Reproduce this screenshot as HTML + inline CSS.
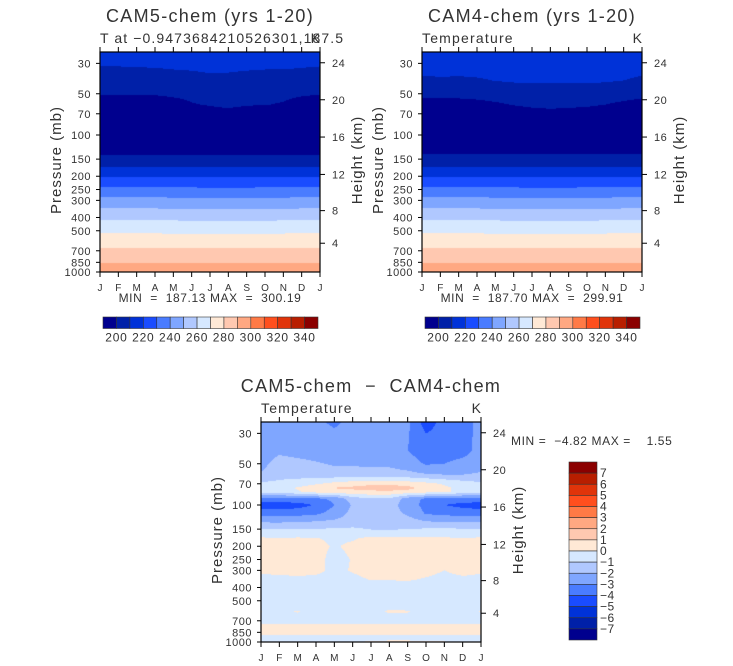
<!DOCTYPE html>
<html><head><meta charset="utf-8"><style>
html,body{margin:0;padding:0;background:#fff;}
#wrap{position:relative;width:733px;height:666px;overflow:hidden;font-family:"Liberation Sans",sans-serif;}
canvas{position:absolute;}
svg{position:absolute;left:0;top:0;}
text{white-space:pre;}
</style></head><body>
<div id="wrap">
<canvas id="c1" width="220" height="220" style="left:100px;top:52px"></canvas>
<canvas id="c2" width="220" height="220" style="left:422px;top:52px"></canvas>
<canvas id="c3" width="220" height="220" style="left:261px;top:422px"></canvas>
<svg id="s" width="733" height="666"></svg>
</div>
<script>
const COLORS=["#00008e","#0020a8","#0032d8","#1a4cff","#4a7cff","#7fa6ff","#b0c8ff","#d6e8ff","#ffe9d6","#ffc8b0","#ffa882","#ff7a46","#ff4f1e","#e0340a","#b81e00","#8b0000"];
const MONTHS=["J","F","M","A","M","J","J","A","S","O","N","D","J"];
const P_TICKS=[30,50,70,100,150,200,250,300,400,500,700,850,1000];
const H_TICKS=[24,20,16,12,8,4];
const H_PRESS=[29.7,55.3,103.5,194,356.5,616.6];
const TOP_BAR_LABELS=[200,220,240,260,280,300,320,340];
const DIFF_BAR_LABELS=[7,6,5,4,3,2,1,0,-1,-2,-3,-4,-5,-6,-7];

const TLEV=[25,30,35,40,50,60,70,85,100,125,150,175,200,250,300,400,500,700,850,1000];
const cam5=[
[214,214,214,214,214,214,214,214,214,214,214,214,214],
[212,212,212,212,212,212,212,212,212,212,212,212,212],
[206,206,207,208,209,209.5,210.2,210,209.5,209,209,208,206],
[204,204,204,204,204,204,204,204,204,204,204,204,204],
[201,201,201,201,201.5,202,202.5,202.5,202.5,202,201.5,201,201],
[192,192,193,194,197,199.5,200.5,201,200.5,200.2,199.5,197,192],
[190,190,190,191,193,195,197.5,198.5,197,195,193,191,190],
[188,188,188,188,188,188,188,188,188,188,188,188,188],
[188,188,188,188,188,188,188,188,188,188,188,188,188],
[193,193,193,193,193,193,193,193,193,193,193,193,193],
[205,205,205,205,205,204.8,204.6,204.6,204.7,204.8,205,205,205],
[211,211,211,211,211,210.8,210.6,210.6,210.7,210.8,211,211,211],
[219.5,219.5,219.5,219.5,219.4,219.2,219,219,219.1,219.2,219.4,219.5,219.5],
[232.5,232.5,232.5,232.4,232.2,232,231.8,231.8,231.9,232,232.2,232.4,232.5],
[243,243,243,242.9,242.7,242.5,242.3,242.3,242.4,242.5,242.7,242.9,243],
[258,258,258,257.9,257.7,257.5,257.3,257.3,257.4,257.5,257.7,257.9,258],
[268.3,268.3,268.3,268.2,268,267.9,267.8,267.8,267.9,268,268.1,268.2,268.3],
[282,282,282,281.9,281.8,281.7,281.6,281.6,281.7,281.8,281.9,282,282],
[289.5,289.5,289.5,289.5,289.4,289.3,289.3,289.3,289.3,289.4,289.5,289.5,289.5],
[300,300,300,300,300,300,300,300,300,300,300,300,300]];
const cam4=[
[214,214,214,214,214,214,214,214,214,214,214,214,214],
[212,212,212,212,212,212,212,212,212,212,212,212,212],
[211,211.2,211,211.3,211.8,212.3,212.5,212.5,212.5,212.5,212.3,211.8,211],
[208.5,209,208.8,209.2,210.2,210.8,211,211,211,211,210.8,210,208.5],
[203,203,203,203.5,204.5,205.5,206,206.5,206.5,206,205,204,203],
[196,196,196,197,198.5,200.5,202,202.5,202,201.5,200,198,196],
[190,190,190,191,192,194,196,197,196.5,195.5,194,192,190],
[188,188,188,188,188,188,188,188,188,188,188,188,188],
[188,188,188,188,188,188,188,188,188,188,188,188,188],
[194,194,194,194,194,194,194,194,194,194,194,194,194],
[205.5,205.5,205.5,205.5,205.4,205.2,205,205,205.1,205.2,205.4,205.5,205.5],
[211,211,211,211,211,210.8,210.6,210.6,210.7,210.8,211,211,211],
[219.5,219.5,219.5,219.5,219.4,219.2,219,219,219.1,219.2,219.4,219.5,219.5],
[232.5,232.5,232.5,232.4,232.2,232,231.8,231.8,231.9,232,232.2,232.4,232.5],
[243,243,243,242.9,242.7,242.5,242.3,242.3,242.4,242.5,242.7,242.9,243],
[258,258,258,257.9,257.7,257.5,257.3,257.3,257.4,257.5,257.7,257.9,258],
[268.3,268.3,268.3,268.2,268,267.9,267.8,267.8,267.9,268,268.1,268.2,268.3],
[282,282,282,281.9,281.8,281.7,281.6,281.6,281.7,281.8,281.9,282,282],
[289.5,289.5,289.5,289.5,289.4,289.3,289.3,289.3,289.3,289.4,289.5,289.5,289.5],
[299.9,299.9,299.9,299.9,299.9,299.9,299.9,299.9,299.9,299.9,299.9,299.9,299.9]];
const DLEV=[25,30,40,50,60,70,75,80,90,100,115,130,150,175,200,250,300,350,400,500,600,700,775,850,925,1000];
const diff=[
[-2.5,-2.5,-2.5,-2.6,-3.3,-2.5,-2.5,-2.5,-2.8,-4.5,-3.6,-3.6,-2.5],
[-2.5,-2.5,-2.5,-2.5,-2.7,-2.5,-2.5,-2.5,-2.9,-4.0,-3.6,-3.6,-2.5],
[-2.5,-2.2,-2.4,-2.5,-2.6,-2.6,-2.6,-2.6,-3.0,-3.6,-3.6,-3.5,-2.5],
[-2.3,-1.6,-1.7,-1.9,-2.1,-2.1,-2.2,-2.2,-2.5,-3.1,-3.0,-2.6,-2.3],
[-1.9,-1.4,-1.4,-1.5,-1.6,-1.6,-1.6,-1.6,-1.7,-1.9,-2.0,-2.0,-1.9],
[-0.8,-0.7,-0.5,-0.1,0.3,0.6,0.8,0.8,0.6,0.3,-0.1,-0.5,-0.8],
[-0.6,-0.4,0.1,0.6,1.05,1.2,1.4,1.5,1.3,0.6,0.2,-0.3,-0.6],
[-0.7,-0.6,-0.1,0.4,0.6,0.7,0.8,0.8,0.7,0.4,0.2,-0.4,-0.7],
[-3.4,-3.4,-3.3,-3.2,-2.8,-1.5,-1.1,-1.1,-2.5,-3.2,-3.4,-3.4,-3.4],
[-4.5,-4.5,-4.4,-3.9,-3.0,-1.9,-1.6,-1.6,-2.5,-3.3,-4.0,-4.3,-4.5],
[-3.5,-3.5,-3.4,-3.2,-2.6,-1.7,-1.5,-1.5,-2.2,-3.1,-3.3,-3.4,-3.5],
[-2.3,-2.3,-2.2,-2.1,-1.9,-1.6,-1.4,-1.4,-1.6,-2.1,-2.2,-2.3,-2.3],
[-0.9,-1.0,-1.0,-0.95,-0.9,-0.85,-1.05,-1.1,-1.0,-0.9,-0.9,-0.9,-0.9],
[0.1,0.05,0.1,0.05,-0.2,-0.1,0.2,0.25,0.2,0.15,0.1,0.05,0.1],
[0.4,0.3,0.4,0.3,-0.1,0.2,0.5,0.5,0.5,0.4,0.35,0.4,0.4],
[0.5,0.4,0.4,0.3,-0.3,0.05,0.5,0.6,0.6,0.5,0.5,0.5,0.5],
[0.1,0.3,0.2,0.3,-0.3,0.1,0.5,0.5,0.4,0.3,0.0,0.3,0.1],
[-0.2,-0.3,-0.1,-0.3,-0.4,-0.3,0.05,0.05,0.1,-0.1,-0.3,-0.2,-0.2],
[-0.5,-0.5,-0.5,-0.5,-0.5,-0.5,-0.5,-0.5,-0.5,-0.5,-0.5,-0.5,-0.5],
[-0.5,-0.5,-0.5,-0.5,-0.5,-0.5,-0.5,-0.5,-0.5,-0.5,-0.5,-0.5,-0.5],
[0.02,-0.2,0.05,-0.3,-0.4,-0.4,-0.3,0.1,0.05,-0.3,-0.3,-0.1,0.02],
[-0.4,-0.4,-0.4,-0.4,-0.4,-0.4,-0.4,-0.4,-0.4,-0.4,-0.4,-0.4,-0.4],
[0.4,0.4,0.4,0.4,0.4,0.4,0.4,0.4,0.4,0.4,0.4,0.4,0.4],
[0.3,0.3,0.3,0.3,0.3,0.3,0.3,0.3,0.3,0.3,0.3,0.3,0.3],
[-0.3,-0.3,-0.3,-0.3,-0.3,-0.3,-0.3,-0.3,-0.3,-0.3,-0.3,-0.3,-0.3],
[-0.3,-0.3,-0.3,-0.3,-0.3,-0.1,0.1,0.15,0.15,0.1,0.05,-0.2,-0.3]];

const W=220,H=220,DEC=137;
function yOf(p){return H-DEC*Math.log10(1000/p);}
function pOf(t){return 1000*Math.pow(10,-(H-t)/DEC);}
function xOf(m){return m/12*W;}
function rgb(h){return [parseInt(h.substr(1,2),16),parseInt(h.substr(3,2),16),parseInt(h.substr(5,2),16)];}
const RGB=COLORS.map(rgb);
function drawField(id,levels,grid,toIdx){
  const ctx=document.getElementById(id).getContext("2d");
  const img=ctx.createImageData(W,H);
  const L=levels.map(p=>Math.log10(p));
  for(let py=0;py<H;py++){
    const lp=Math.log10(pOf(py+0.5));
    let k=0;while(k<L.length-2&&lp>L[k+1])k++;
    let fy=(lp-L[k])/(L[k+1]-L[k]);fy=Math.max(0,Math.min(1,fy));
    for(let px=0;px<W;px++){
      const m=(px+0.5)/W*12;let j=Math.min(11,Math.floor(m));const fx=m-j;
      const a=grid[k][j]*(1-fx)+grid[k][j+1]*fx;
      const b=grid[k+1][j]*(1-fx)+grid[k+1][j+1]*fx;
      const v=a*(1-fy)+b*fy;
      let idx=Math.max(0,Math.min(15,toIdx(v)));
      const c=RGB[idx],o=(py*W+px)*4;
      img.data[o]=c[0];img.data[o+1]=c[1];img.data[o+2]=c[2];img.data[o+3]=255;
    }
  }
  ctx.putImageData(img,0,0);
}
drawField("c1",TLEV,cam5,v=>Math.floor((v-200)/10)+1);
drawField("c2",TLEV,cam4,v=>Math.floor((v-200)/10)+1);
drawField("c3",DLEV,diff,v=>Math.floor(v)+8);

const NS="http://www.w3.org/2000/svg";const svg=document.getElementById("s");
function el(tag,attrs,parent){const e=document.createElementNS(NS,tag);for(const k in attrs)e.setAttribute(k,attrs[k]);(parent||svg).appendChild(e);return e;}
function txt(x,y,s,size,anchor,parent,ls){const e=el("text",{x:x,y:y,"font-size":size,"text-anchor":anchor||"start",fill:"#333","font-family":"Liberation Sans, sans-serif","letter-spacing":(ls==null?0.5:ls)},parent);e.textContent=s;return e;}

function panel(x0,y0,title,sub,minmax,name,subLs){
  const g=el("g",{});
  
  
  const fr=el("rect",{x:x0,y:y0,width:W,height:H,fill:"none",stroke:"#000","stroke-width":1.2},g);
  
  
  const t=txt(x0+W/2,y0-30,title,18,"middle",g,1.3);
  
  
  const st=txt(x0,y0-9,sub,14,"start",g,subLs);
  
  
  const u=txt(x0+W,y0-9,"K",14,"end",g,0);
  
  
  MONTHS.forEach((m,i)=>{
    const x=x0+xOf(i);
    el("line",{x1:x,x2:x,y1:y0+H,y2:y0+H+5,stroke:"#000"},g);
    el("line",{x1:x,x2:x,y1:y0,y2:y0-5,stroke:"#000"},g);
    const l=txt(x,y0+H+19,m,10,"middle",g,0);
    
    
  });
  P_TICKS.forEach(p=>{
    const y=y0+yOf(p);
    el("line",{x1:x0,x2:x0-4,y1:y,y2:y,stroke:"#000"},g);
    const l=txt(x0-9,y+4,String(p),11,"end",g);
    
    
  });
  H_TICKS.forEach((h,i)=>{
    const y=y0+yOf(H_PRESS[i]);
    el("line",{x1:x0+W,x2:x0+W+5,y1:y,y2:y,stroke:"#000"},g);
    const l=txt(x0+W+12,y+4,String(h),11,"start",g);
    
    
  });
  const yl=txt(0,0,"Pressure (mb)",15,"middle",g,1);
  yl.setAttribute("transform","translate("+(x0-39)+","+(y0+H/2-2)+") rotate(-90)");
  
  
  const hl=txt(0,0,"Height (km)",15,"middle",g,1);
  hl.setAttribute("transform","translate("+(x0+W+42)+","+(y0+H/2-2)+") rotate(-90)");
  
  
  if(minmax){const mm=txt(x0+W/2,y0+H+30,minmax,12,"middle",g,0.6);
    
    }
}
panel(100,52,"CAM5-chem (yrs 1-20)","T at \u22120.9473684210526301,187.5","MIN  =  187.13 MAX  =  300.19","cam5",1.1);
panel(422,52,"CAM4-chem (yrs 1-20)","Temperature","MIN  =  187.70 MAX  =  299.91","cam4",1.2);
panel(261,422,"CAM5-chem  \u2212  CAM4-chem","Temperature",null,"diff",1.2);

function hbar(x0,y0,w,h,name){
  const g=el("g",{});
  
  
  const bw=w/16;
  COLORS.forEach((c,i)=>{el("rect",{x:x0+i*bw,y:y0,width:bw,height:h,fill:c,stroke:"#333","stroke-width":0.6},g);});
  TOP_BAR_LABELS.forEach((v,i)=>{
    const l=txt(x0+(1+2*i)*bw,y0+h+13,String(v),12,"middle",g,0.8);
    
    
  });
}
hbar(103,317,215,11.5,"cam5-colorbar");
hbar(425,317,215,11.5,"cam4-colorbar");

const vb=el("g",{});


const bh=(640-462)/16;
for(let i=0;i<16;i++){el("rect",{x:569,y:462+i*bh,width:28,height:bh,fill:COLORS[15-i],stroke:"#333","stroke-width":0.6},vb);}
DIFF_BAR_LABELS.forEach((v,i)=>{
  const l=txt(600,462+(i+1)*bh+4,(v<0?"\u2212"+(-v):String(v)),12,"start",vb);
  
  
});
const mm=txt(511,445,"MIN =  \u22124.82 MAX =    1.55",12,"start",null,0.6);


</script>
</body></html>
